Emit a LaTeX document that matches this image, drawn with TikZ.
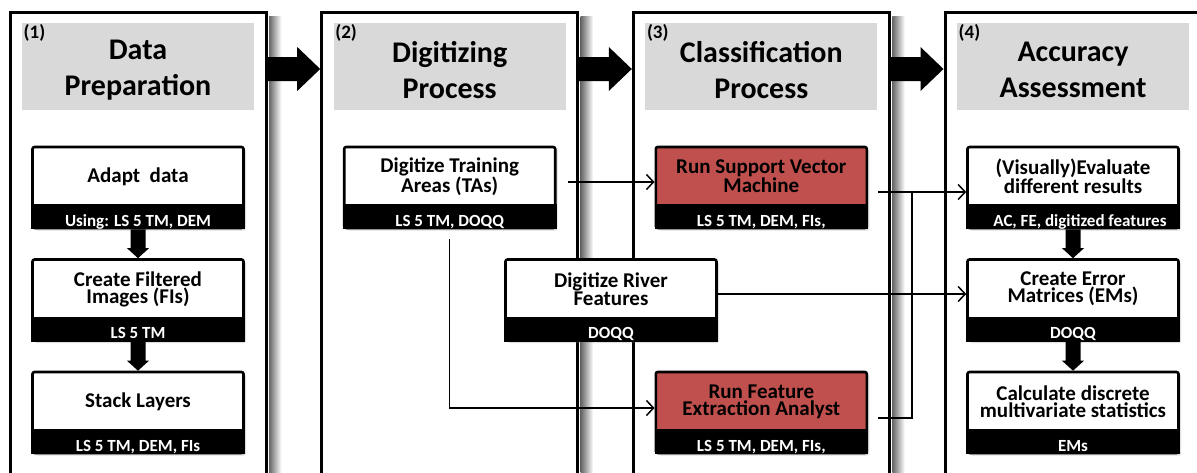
\documentclass[tikz,border=0pt]{standalone}
\usepackage{fontspec}
\setmainfont{Carlito}
\usetikzlibrary{arrows.meta,calc,shadows}

\definecolor{hdrgray}{HTML}{D9D9D9}
\definecolor{runred}{HTML}{C0504D}

% a process box: white (or coloured) title area with a black strip for the data used
\newcommand{\procstep}[5][white]{%
  \node[procbox, fill=#1] (#2) at (#3) {};
  \fill ([yshift=25pt]#2.south west) rectangle (#2.south east);
  \node[boxtitle] at ([yshift=11pt]#2.center) {#4};
  \node[boxlabel] at ([yshift=-38.5pt]#2.center) {#5};
}
% broad vertical arrow between two stacked boxes
\newcommand{\stepdownarrow}[2]{%
  \fill ($(#1)+(-7.5,0)$) -- ($(#2)+(-7.5,-10)$) -- ($(#2)+(-11,-10)$) -- (#2)
        -- ($(#2)+(11,-10)$) -- ($(#2)+(7.5,-10)$) -- ($(#1)+(7.5,0)$) -- cycle;
}
% broad horizontal arrow from one stage to the next
\newcommand{\stagearrow}[2]{%
  \fill ($(#1)+(0,-12)$) -- ($(#2)+(-23,-12)$) -- ($(#2)+(-23,-22)$) -- (#2)
        -- ($(#2)+(-23,22)$) -- ($(#2)+(-23,12)$) -- ($(#1)+(0,12)$) -- cycle;
}
% soft shadow along the right side of a stage panel
\newcommand{\panelshadow}[1]{%
  \shade[left color=black!60, right color=white]
    ($(#1.north east)+(1.5,6)$) rectangle ($(#1.south east)+(14,0)$);
}

\begin{document}
\begin{tikzpicture}[x=1pt,y=-1pt,
  panel/.style={draw, line width=3pt, fill=white, minimum width=256pt,
    minimum height=478pt, inner sep=0pt},
  header/.style={fill=hdrgray, minimum width=232pt, minimum height=87pt,
    inner sep=0pt},
  headtitle/.style={inner sep=0pt, align=center,
    font=\bfseries\fontsize{30}{36.5}\selectfont},
  stagenum/.style={anchor=base west, inner sep=0pt,
    font=\bfseries\fontsize{19}{22}\selectfont},
  procbox/.style={draw, line width=2.6pt, rounded corners=2pt,
    minimum width=211pt, minimum height=81pt, inner sep=0pt,
    drop shadow={shadow xshift=2.5pt, shadow yshift=-2.5pt, opacity=0.25}},
  boxtitle/.style={inner sep=0pt, align=center,
    font=\bfseries\fontsize{21}{17}\selectfont},
  boxlabel/.style={anchor=base, inner sep=0pt, text=white,
    font=\bfseries\fontsize{17}{20}\selectfont},
  conn/.style={line width=1.5pt, -{Straight Barb[length=7pt,width=15pt]}},
  link/.style={line width=1.5pt}
]
\useasboundingbox (0,0) rectangle (1197,472);
\clip (0,0) rectangle (1197,472);

% stage panels
\node[panel] (p1) at (138,251) {};
\node[panel] (p2) at (449.7,251) {};
\node[panel] (p3) at (761.3,251) {};
\node[panel] (p4) at (1073,251) {};
\foreach \p in {p1,p2,p3,p4} {\panelshadow{\p}}

% stage headers
\node[header] (h1) at (138,66.5) {};
\node[header] (h2) at (449.7,66.5) {};
\node[header] (h3) at (761.3,66.5) {};
\node[header] (h4) at (1073,66.5) {};
\node[headtitle] (t1) at ([yshift=-3.5pt]h1.center) {Data\\Preparation};
\node[headtitle] (t2) at ([yshift=-3.5pt]h2.center) {Digitizing\\Process};
\node[headtitle] (t3) at ([yshift=-3.5pt]h3.center) {Classification\\Process};
\node[headtitle] (t4) at ([yshift=-3.5pt]h4.center) {Accuracy\\Assessment};
\node[stagenum] (n1) at ($(p1.north west)+(15,28)$) {(1)};
\node[stagenum] (n2) at ($(p2.north west)+(15,28)$) {(2)};
\node[stagenum] (n3) at ($(p3.north west)+(15,28)$) {(3)};
\node[stagenum] (n4) at ($(p4.north west)+(15,28)$) {(4)};

% arrows between stages
\coordinate (a1s) at ($(p1.east)+(0,-182)$);
\coordinate (a1t) at ($(p2.west)+(0,-182)$);
\coordinate (a2s) at ($(p2.east)+(0,-182)$);
\coordinate (a2t) at ($(p3.west)+(0,-182)$);
\coordinate (a3s) at ($(p3.east)+(0,-182)$);
\coordinate (a3t) at ($(p4.west)+(0,-182)$);
\stagearrow{a1s}{a1t}
\stagearrow{a2s}{a2t}
\stagearrow{a3s}{a3t}

% process boxes
\procstep{adapt}{138,187.5}{Adapt\ \ data}{Using: LS 5 TM, DEM}
\procstep{filt}{138,300}{Create Filtered\\Images (FIs)}{LS 5 TM}
\procstep{stack}{138,412.5}{Stack Layers}{LS 5 TM, DEM, FIs}
\procstep{ta}{449.7,187.5}{Digitize Training\\Areas (TAs)}{LS 5 TM, DOQQ}
\procstep{drf}{611,300}{Digitize River\\Features}{DOQQ}
\procstep[runred]{svm}{761.3,187.5}{Run Support Vector\\Machine}{LS 5 TM, DEM, FIs,}
\procstep[runred]{rfea}{761.3,412.5}{Run Feature\\Extraction Analyst}{LS 5 TM, DEM, FIs,}
\procstep{eval}{1073,187.5}{(Visually)Evaluate\\different results}{\hspace*{14pt}AC, FE, digitized features}
\procstep{errm}{1073,300}{Create Error\\Matrices (EMs)}{DOQQ}
\procstep{stats}{1073,412.5}{Calculate discrete\\multivariate statistics}{EMs}

% broad arrows inside the stages
\stepdownarrow{adapt.south}{filt.north}
\stepdownarrow{filt.south}{stack.north}
\stepdownarrow{eval.south}{errm.north}
\stepdownarrow{errm.south}{stats.north}

% thin connectors
\coordinate (jn) at (912,192);
\draw[conn] ([xshift=11pt,yshift=5.5pt]ta.east) -- ([yshift=5.5pt]svm.west);
\draw[conn] ([yshift=-10pt]ta.south) |- ([yshift=4.5pt]rfea.west);
\draw[conn] ([xshift=10pt,yshift=-4.5pt]svm.east) -- ([yshift=-4.5pt]eval.west);
\draw[link] ([xshift=10pt,yshift=-5.5pt]rfea.east) -| (jn);
\draw[conn] ([yshift=6pt]drf.east) -- ([yshift=6pt]errm.west);
\end{tikzpicture}
\end{document}
